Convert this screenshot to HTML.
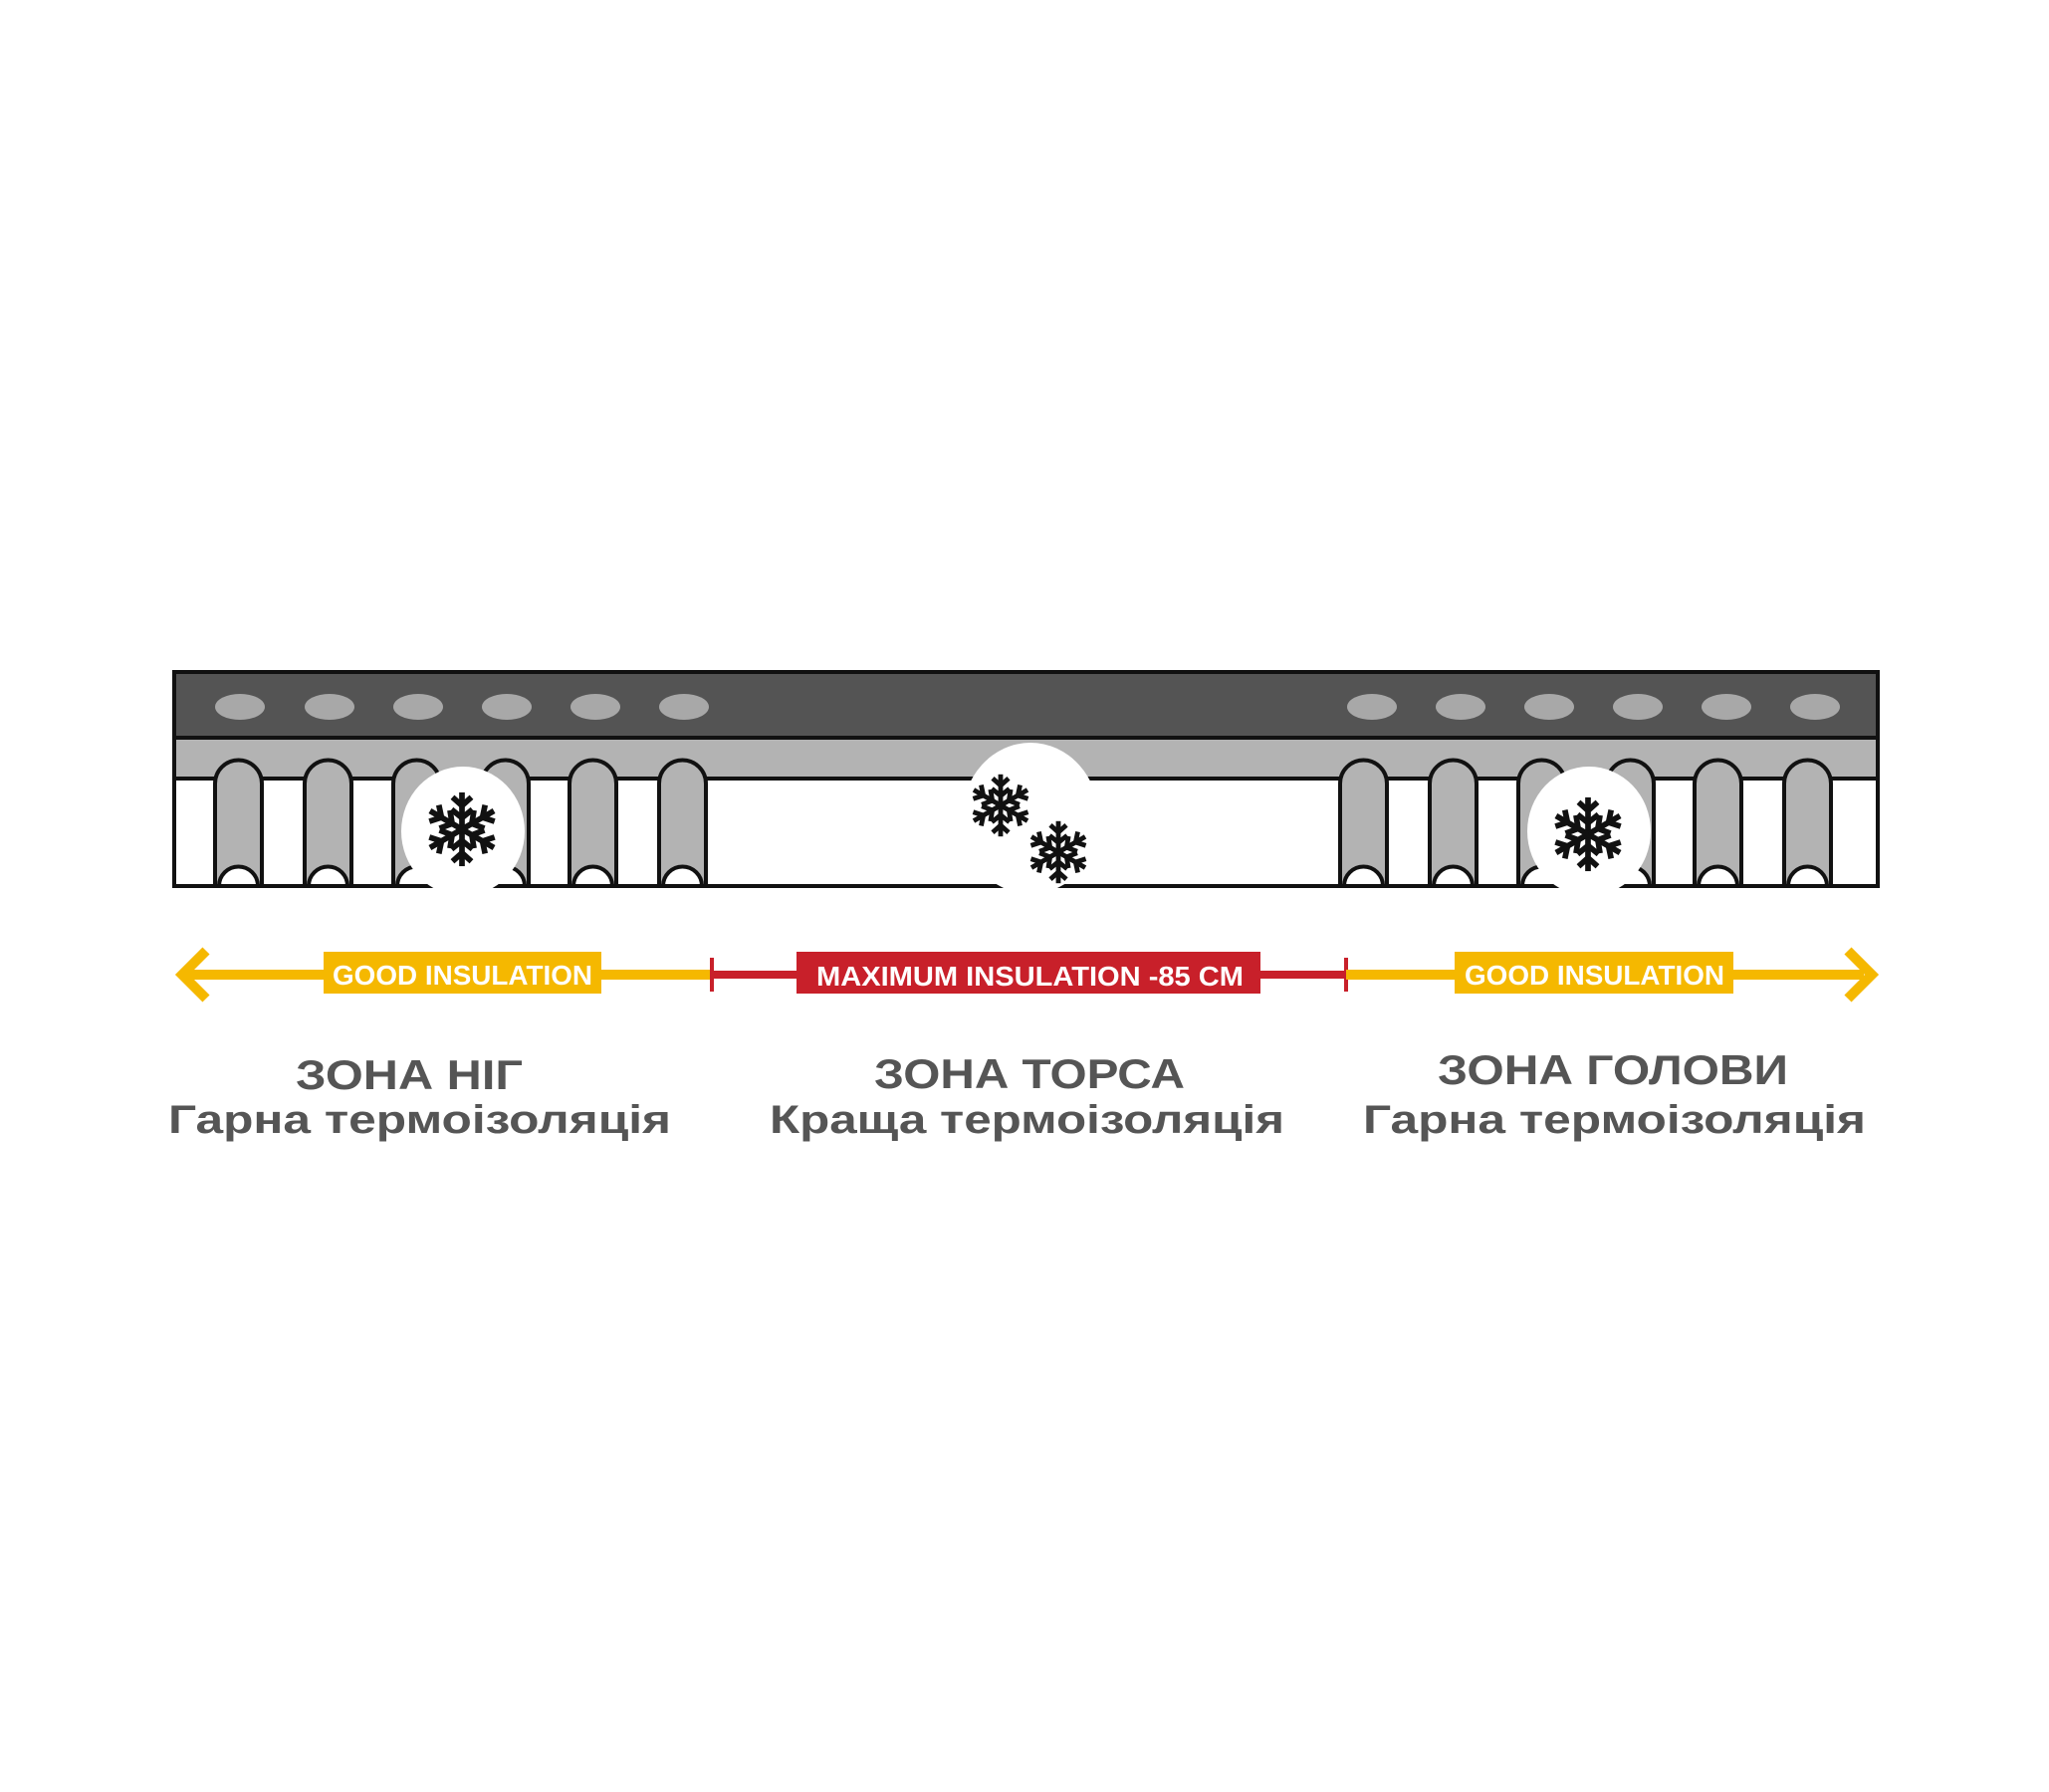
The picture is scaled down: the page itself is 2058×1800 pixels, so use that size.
<!DOCTYPE html>
<html><head><meta charset="utf-8"><style>html,body{margin:0;padding:0;background:#fff}svg{display:block}</style></head>
<body>
<svg width="2058" height="1800" viewBox="0 0 2058 1800" xmlns="http://www.w3.org/2000/svg">
<defs>
<g id="arm" stroke="#111" stroke-width="6" fill="none" stroke-linecap="butt">
<line x1="0" y1="0" x2="0" y2="-39"/>
<polyline points="-10,-34 0,-25 10,-34"/>
<polyline points="-11,-21 0,-12 11,-21"/>
</g>
<g id="flake">
<use href="#arm"/><use href="#arm" transform="rotate(60)"/><use href="#arm" transform="rotate(120)"/>
<use href="#arm" transform="rotate(180)"/><use href="#arm" transform="rotate(240)"/><use href="#arm" transform="rotate(300)"/>
</g>
<g id="tube">
<path d="M0,890 L0,787 A23.5,23.5 0 0 1 47,787 L47,890 L43,890 A19.5,19.5 0 0 0 4,890 Z" fill="#b3b3b3" stroke="#111" stroke-width="4"/>
</g>
</defs>
<!-- bar -->
<rect x="175" y="675" width="1711" height="215" fill="#fff" stroke="#111" stroke-width="4"/>
<rect x="175" y="675" width="1711" height="66" fill="#545454" stroke="#111" stroke-width="4"/>
<rect x="177" y="743" width="1707" height="39" fill="#b3b3b3"/>
<line x1="175" y1="782" x2="1886" y2="782" stroke="#111" stroke-width="4"/>
<g fill="#a8a8a8">
<ellipse cx="241" cy="710" rx="25" ry="13"/><ellipse cx="331" cy="710" rx="25" ry="13"/><ellipse cx="420" cy="710" rx="25" ry="13"/>
<ellipse cx="509" cy="710" rx="25" ry="13"/><ellipse cx="598" cy="710" rx="25" ry="13"/><ellipse cx="687" cy="710" rx="25" ry="13"/>
<ellipse cx="1378" cy="710" rx="25" ry="13"/><ellipse cx="1467" cy="710" rx="25" ry="13"/><ellipse cx="1556" cy="710" rx="25" ry="13"/>
<ellipse cx="1645" cy="710" rx="25" ry="13"/><ellipse cx="1734" cy="710" rx="25" ry="13"/><ellipse cx="1823" cy="710" rx="25" ry="13"/>
</g>
<use href="#tube" x="216"/><use href="#tube" x="306"/><use href="#tube" x="395"/><use href="#tube" x="484"/><use href="#tube" x="572"/><use href="#tube" x="662"/>
<use href="#tube" x="1346"/><use href="#tube" x="1436"/><use href="#tube" x="1525"/><use href="#tube" x="1614"/><use href="#tube" x="1702"/><use href="#tube" x="1792"/>
<!-- circles -->
<ellipse cx="465" cy="835" rx="62" ry="65" fill="#fff"/>
<ellipse cx="1035" cy="822" rx="69" ry="76" fill="#fff"/>
<ellipse cx="1596" cy="835" rx="62" ry="65" fill="#fff"/>
<use href="#flake" transform="translate(464,833) scale(0.95)"/>
<use href="#flake" transform="translate(1005,809) scale(0.8)"/>
<use href="#flake" transform="translate(1063,856) scale(0.8)"/>
<use href="#flake" transform="translate(1595,838) scale(0.95)"/>
<!-- arrows -->
<line x1="190" y1="979" x2="715" y2="979" stroke="#f5b800" stroke-width="10"/>
<polyline points="207,955 183,979 207,1003" fill="none" stroke="#f5b800" stroke-width="10"/>
<line x1="715" y1="979" x2="1352" y2="979" stroke="#c8202a" stroke-width="8"/>
<line x1="715" y1="962" x2="715" y2="996" stroke="#c8202a" stroke-width="4"/>
<line x1="1352" y1="962" x2="1352" y2="996" stroke="#c8202a" stroke-width="4"/>
<line x1="1352" y1="979" x2="1872" y2="979" stroke="#f5b800" stroke-width="10"/>
<polyline points="1856,955 1880,979 1856,1003" fill="none" stroke="#f5b800" stroke-width="10"/>
<rect x="325" y="956" width="279" height="42" fill="#f5b800"/>
<rect x="800" y="956" width="466" height="42" fill="#c8202a"/>
<rect x="1461" y="956" width="280" height="42" fill="#f5b800"/>
<g font-family="Liberation Sans, sans-serif" font-weight="bold" fill="#fff" font-size="28">
<text x="334" y="989" textLength="261" lengthAdjust="spacingAndGlyphs">GOOD INSULATION</text>
<text x="820" y="990" textLength="429" lengthAdjust="spacingAndGlyphs">MAXIMUM INSULATION -85 CM</text>
<text x="1471" y="989" textLength="261" lengthAdjust="spacingAndGlyphs">GOOD INSULATION</text>
</g>
<g font-family="Liberation Sans, DejaVu Sans, sans-serif" font-weight="bold" fill="#555">
<text x="297" y="1094" font-size="42" textLength="228" lengthAdjust="spacingAndGlyphs">ЗОНА НІГ</text>
<text x="878" y="1093" font-size="42" textLength="312" lengthAdjust="spacingAndGlyphs">ЗОНА ТОРСА</text>
<text x="1444" y="1089" font-size="42" textLength="352" lengthAdjust="spacingAndGlyphs">ЗОНА ГОЛОВИ</text>
<text x="169" y="1138" font-size="40" textLength="505" lengthAdjust="spacingAndGlyphs">Гарна термоізоляція</text>
<text x="773" y="1138" font-size="40" textLength="517" lengthAdjust="spacingAndGlyphs">Краща термоізоляція</text>
<text x="1369" y="1138" font-size="40" textLength="505" lengthAdjust="spacingAndGlyphs">Гарна термоізоляція</text>
</g>
</svg>
</body></html>
